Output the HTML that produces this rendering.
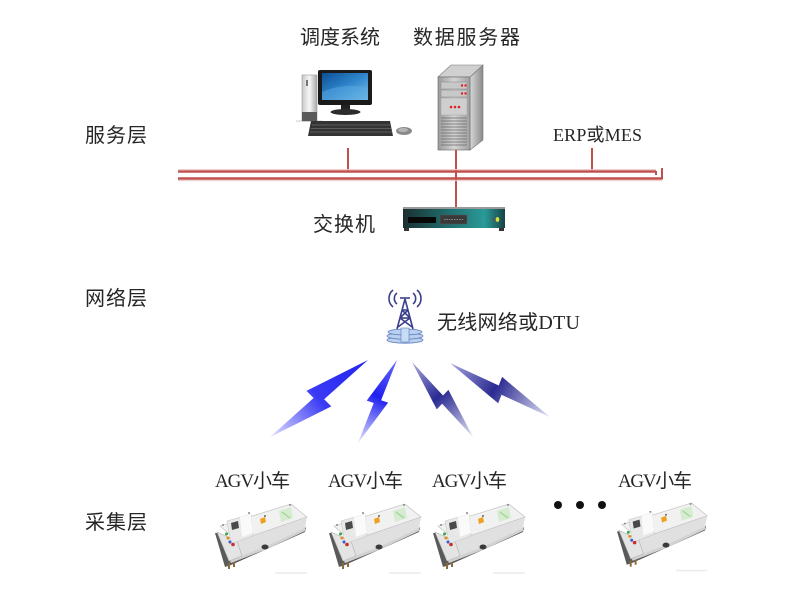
<!DOCTYPE html>
<html>
<head>
<meta charset="utf-8">
<style>
  html,body{margin:0;padding:0;background:#fff;}
  svg{display:block;}
  .cn{font-family:"Liberation Serif","Noto Sans CJK SC",serif;fill:#262626;}
</style>
</head>
<body>
<svg width="800" height="600" viewBox="0 0 800 600" xmlns="http://www.w3.org/2000/svg">
  <defs>
    <linearGradient id="scr" x1="0" y1="0" x2="1" y2="1">
      <stop offset="0" stop-color="#0b4f96"/>
      <stop offset="0.5" stop-color="#2f86cc"/>
      <stop offset="1" stop-color="#7cc1ec"/>
    </linearGradient>
    <linearGradient id="silver" x1="0" y1="0" x2="1" y2="0">
      <stop offset="0" stop-color="#c8c8c8"/>
      <stop offset="0.5" stop-color="#f6f6f6"/>
      <stop offset="1" stop-color="#a8a8a8"/>
    </linearGradient>
    <linearGradient id="srvFront" x1="0" y1="0" x2="1" y2="0">
      <stop offset="0" stop-color="#9a9a9a"/>
      <stop offset="0.5" stop-color="#d4d4d4"/>
      <stop offset="1" stop-color="#a0a0a0"/>
    </linearGradient>
    <linearGradient id="srvSide" x1="0" y1="0" x2="1" y2="0">
      <stop offset="0" stop-color="#d8d8d8"/>
      <stop offset="1" stop-color="#8a8a8a"/>
    </linearGradient>
    <linearGradient id="sw" x1="0" y1="0" x2="1" y2="0">
      <stop offset="0" stop-color="#1c2f30"/>
      <stop offset="0.45" stop-color="#1f6f70"/>
      <stop offset="0.8" stop-color="#2a9a98"/>
      <stop offset="1" stop-color="#174444"/>
    </linearGradient>
    <linearGradient id="b1" x1="0" y1="0" x2="0" y2="1">
      <stop offset="0" stop-color="#2222ee"/>
      <stop offset="0.5" stop-color="#3a3af5"/>
      <stop offset="1" stop-color="#e4e4ff"/>
    </linearGradient>
    <linearGradient id="b2" x1="0" y1="0" x2="0" y2="1">
      <stop offset="0" stop-color="#6a6af8"/>
      <stop offset="0.45" stop-color="#2020f0"/>
      <stop offset="1" stop-color="#e8e8ff"/>
    </linearGradient>
    <linearGradient id="b3" x1="0" y1="0" x2="0" y2="1">
      <stop offset="0" stop-color="#a8a8e0"/>
      <stop offset="0.45" stop-color="#2a2a92"/>
      <stop offset="1" stop-color="#e6e6f6"/>
    </linearGradient>
    <g id="bolt">
      <polygon points="0,0 3,47 11,46 0,100 -3,53 -11,54"/>
    </g>
    <g id="agv">
      <line x1="60" y1="70" x2="92" y2="70" stroke="#ececec" stroke-width="1.5"/>
      <polygon points="0,30 3,30 14,58 88,27 91,24 90,29 16,62 10,64" fill="#5a5a5a"/>
      <polygon points="14,56 52,42 90,24 90,28 52,46 16,60" fill="#d2d2d2"/>
      <polygon points="22,38 92,14 90,25 52,43 26,53" fill="#e0e0e0"/>
      <polygon points="5,23 76,1 92,14 22,38" fill="#f1f1f1" stroke="#bcbcbc" stroke-width="0.6"/>
      <polygon points="2,29 22,38 27,53 14,58" fill="#e4e4e4" stroke="#b0b0b0" stroke-width="0.6"/>
      <polygon points="12,18 36,11 38,33 16,41" fill="#e8e8e8" stroke="#c0c0c0" stroke-width="0.5"/>
      <polygon points="25,14 36,11 38,30 27,34" fill="#fafafa"/>
      <polygon points="16,20 23,18 24,25 17,27" fill="#4a4a4a"/>
      <circle cx="11.5" cy="31" r="1.5" fill="#3aa84a"/>
      <circle cx="13" cy="35" r="1.5" fill="#e08a20"/>
      <circle cx="15" cy="39" r="1.5" fill="#3a5ad0"/>
      <circle cx="18" cy="41.5" r="1.8" fill="#d02a2a"/>
      <polygon points="45,16 50,14 51,19 46,21" fill="#f0a020"/>
      <circle cx="50" cy="13" r="1" fill="#666"/>
      <polygon points="64,8 76,4 78,15 66,19" fill="#d6ecd0"/>
      <line x1="67" y1="9" x2="75" y2="15" stroke="#9cd490" stroke-width="1.2"/>
      <circle cx="8" cy="22" r="1" fill="#888"/>
      <circle cx="75" cy="2" r="1" fill="#888"/>
      <circle cx="34" cy="10" r="1" fill="#888"/>
      <ellipse cx="50" cy="44" rx="3.5" ry="2.5" fill="#3a3a3a"/>
      <rect x="13" y="60" width="2" height="6" fill="#8a6a3a"/>
      <rect x="18" y="59" width="2" height="5" fill="#8a6a3a"/>
    </g>
  </defs>

  <text class="cn" x="85" y="142" font-size="20" textLength="62">服务层</text>
  <text class="cn" x="85" y="305" font-size="20" textLength="62">网络层</text>
  <text class="cn" x="85" y="529" font-size="20" textLength="62">采集层</text>

  <text class="cn" x="300" y="44" font-size="20" textLength="80">调度系统</text>
  <text class="cn" x="413" y="44" font-size="20" textLength="107">数据服务器</text>
  <text class="cn" x="553" y="141" font-size="18" textLength="89">ERP或MES</text>
  <text class="cn" x="313" y="231" font-size="20" textLength="62">交换机</text>

  <!-- Computer -->
  <line x1="296" y1="121" x2="322" y2="121" stroke="#e6e6e6" stroke-width="2"/>
  <rect x="302" y="75" width="15" height="46" fill="url(#silver)" stroke="#9a9a9a" stroke-width="0.6"/>
  <rect x="306" y="80" width="2" height="6" fill="#777"/>
  <rect x="302" y="112" width="15" height="9" fill="#5a5a5a"/>
  <rect x="318" y="70" width="54" height="35" rx="2" fill="#1a1a1a"/>
  <rect x="322" y="73" width="46" height="27" fill="url(#scr)"/>
  <path d="M322 92 Q345 82 368 88 L368 100 L322 100 Z" fill="#5aa9e0" opacity="0.5"/>
  <rect x="341" y="105" width="9" height="5" fill="#222"/>
  <ellipse cx="345.5" cy="112" rx="15" ry="3" fill="#2c2c2c"/>
  <polygon points="311,121 390,121 393,136 308,136" fill="#343434"/>
  <g stroke="#6a6a6a" stroke-width="0.8">
    <line x1="312" y1="125" x2="390" y2="125"/>
    <line x1="311" y1="128.5" x2="391" y2="128.5"/>
    <line x1="310" y1="132" x2="392" y2="132"/>
  </g>
  <ellipse cx="404" cy="131" rx="8" ry="4" fill="#8a8a8a"/>
  <ellipse cx="403" cy="130" rx="5" ry="2" fill="#b5b5b5"/>

  <!-- Server -->
  <polygon points="438,77 451,65 483,65 470,77" fill="#d0d0d0" stroke="#777" stroke-width="0.6"/>
  <polygon points="470,77 483,65 483,140 470,150" fill="url(#srvSide)" stroke="#777" stroke-width="0.6"/>
  <rect x="438" y="77" width="32" height="73" fill="url(#srvFront)" stroke="#666" stroke-width="0.6"/>
  <rect x="441" y="82" width="26" height="7" fill="#c8c8c8" stroke="#888" stroke-width="0.5"/>
  <rect x="441" y="90" width="26" height="7" fill="#c8c8c8" stroke="#888" stroke-width="0.5"/>
  <circle cx="462" cy="85.5" r="1.2" fill="#e02020"/>
  <circle cx="465.5" cy="85.5" r="1.2" fill="#e02020"/>
  <circle cx="462" cy="93.5" r="1.2" fill="#e02020"/>
  <circle cx="465.5" cy="93.5" r="1.2" fill="#e02020"/>
  <rect x="441" y="98" width="26" height="17" fill="#cfcfcf" stroke="#999" stroke-width="0.4"/>
  <circle cx="451" cy="107" r="1.3" fill="#e02020"/>
  <circle cx="455" cy="107" r="1.3" fill="#e02020"/>
  <circle cx="459" cy="107" r="1.3" fill="#e02020"/>
  <g stroke="#6a6a6a" stroke-width="0.8">
    <line x1="441" y1="118" x2="467" y2="118"/>
    <line x1="441" y1="121" x2="467" y2="121"/>
    <line x1="441" y1="124" x2="467" y2="124"/>
    <line x1="441" y1="127" x2="467" y2="127"/>
    <line x1="441" y1="130" x2="467" y2="130"/>
    <line x1="441" y1="133" x2="467" y2="133"/>
    <line x1="441" y1="136" x2="467" y2="136"/>
    <line x1="441" y1="139" x2="467" y2="139"/>
    <line x1="441" y1="142" x2="467" y2="142"/>
    <line x1="441" y1="145" x2="467" y2="145"/>
  </g>

  <!-- Red bus -->
  <g stroke="#c0504d" fill="none">
    <line x1="348" y1="148" x2="348" y2="171" stroke-width="2"/>
    <line x1="592" y1="148" x2="592" y2="171" stroke-width="2"/>
    <line x1="456" y1="150" x2="456" y2="209" stroke-width="2"/>
    <line x1="178" y1="171.5" x2="656" y2="171.5" stroke-width="2.6"/>
    <line x1="178" y1="178.5" x2="662" y2="178.5" stroke-width="2.6"/>
    <line x1="656" y1="171" x2="656" y2="175" stroke-width="2"/>
    <line x1="662" y1="168" x2="662" y2="179.5" stroke-width="2"/>
  </g>
  <g stroke="#f0c8c8" stroke-width="1" fill="none">
    <line x1="178" y1="169.6" x2="656" y2="169.6"/>
    <line x1="178" y1="180.6" x2="662" y2="180.6"/>
  </g>

  <!-- Switch -->
  <rect x="403" y="207" width="102" height="2" fill="#9a9a9a"/>
  <rect x="403" y="209" width="102" height="19" fill="url(#sw)"/>
  <rect x="404" y="228" width="5" height="3" fill="#333"/>
  <rect x="499" y="228" width="5" height="3" fill="#333"/>
  <rect x="408" y="217" width="28" height="6" fill="#080808"/>
  <rect x="440" y="215" width="27" height="9" fill="#3a3a3a" stroke="#555" stroke-width="0.6"/>
  <line x1="444" y1="219.5" x2="463" y2="219.5" stroke="#888" stroke-width="1" stroke-dasharray="1.5,1"/>
  <circle cx="494" cy="219.5" r="1.5" fill="#555"/>
  <ellipse cx="497.5" cy="219.5" rx="1.8" ry="2.5" fill="#d8e040"/>

  <!-- Tower -->
  <g stroke="#3a3f8c" fill="none" stroke-width="1.6">
    <line x1="405" y1="299" x2="397" y2="329"/>
    <line x1="405" y1="299" x2="413" y2="329"/>
    <line x1="402" y1="310" x2="408" y2="310"/>
    <line x1="400" y1="318" x2="410" y2="318"/>
    <line x1="402" y1="310" x2="410" y2="318"/>
    <line x1="408" y1="310" x2="400" y2="318"/>
    <line x1="400" y1="318" x2="412" y2="327"/>
    <line x1="410" y1="318" x2="398" y2="327"/>
    <path d="M397 293 A7 7 0 0 0 397 304"/>
    <path d="M393 290 A11 11 0 0 0 393 307"/>
    <path d="M413 293 A7 7 0 0 1 413 304"/>
    <path d="M417 290 A11 11 0 0 1 417 307"/>
    <line x1="400" y1="298" x2="410" y2="298"/>
  </g>
  <g stroke="#5a78b8" stroke-width="0.8" fill="#b9d0f0">
    <ellipse cx="405" cy="340" rx="18" ry="3.2"/>
    <ellipse cx="405" cy="336" rx="18" ry="3.2"/>
    <ellipse cx="405" cy="332" rx="17" ry="3"/>
  </g>
  <rect x="401" y="328" width="8" height="14" fill="#c8dcf5" stroke="#5a78b8" stroke-width="0.6"/>

  <text class="cn" x="437" y="329" font-size="20" textLength="143">无线网络或DTU</text>

  <!-- Lightning bolts -->
  <use href="#bolt" fill="url(#b1)" transform="translate(368,360) rotate(51.8) scale(1.25)"/>
  <use href="#bolt" fill="url(#b2)" transform="translate(397,360) rotate(25.2) scale(0.92)"/>
  <use href="#bolt" fill="url(#b3)" transform="translate(412,362) rotate(-39.1) scale(0.97)"/>
  <use href="#bolt" fill="url(#b3)" transform="translate(450,363) rotate(-61.6) scale(1.14)"/>

  <!-- AGV labels -->
  <text class="cn" x="215" y="487" font-size="19" textLength="75">AGV小车</text>
  <text class="cn" x="328" y="487" font-size="19" textLength="75">AGV小车</text>
  <text class="cn" x="432" y="487" font-size="19" textLength="75">AGV小车</text>
  <text class="cn" x="618" y="487" font-size="19" textLength="74">AGV小车</text>

  <!-- AGVs -->
  <use href="#agv" transform="translate(215,503)"/>
  <use href="#agv" transform="translate(329,503)"/>
  <use href="#agv" transform="translate(433,503)"/>
  <use href="#agv" transform="translate(617,502) scale(0.98)"/>

  <circle cx="558" cy="505" r="4" fill="#111"/>
  <circle cx="580" cy="505" r="4" fill="#111"/>
  <circle cx="602" cy="505" r="4" fill="#111"/>
</svg>
</body>
</html>
